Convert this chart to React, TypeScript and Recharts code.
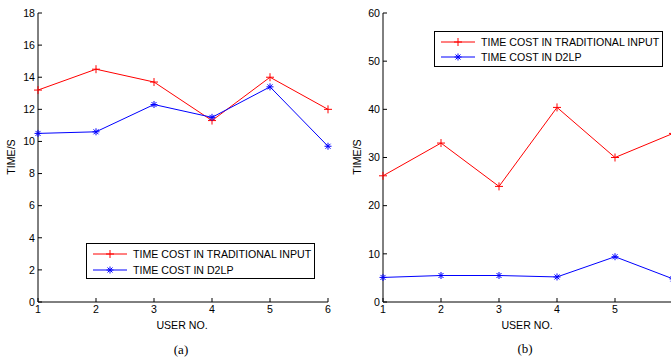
import { LineChart, Line, XAxis, YAxis, Legend } from 'recharts';

const users = [1, 2, 3, 4, 5, 6];
const traditionalA = [13.2, 14.5, 13.7, 11.3, 14.0, 12.0];
const d2lpA = [10.5, 10.6, 12.3, 11.5, 13.4, 9.7];
const traditionalB = [26.2, 33.0, 24.0, 40.4, 30.0, 35.0];
const d2lpB = [5.1, 5.5, 5.5, 5.2, 9.4, 4.8];
const yTicksA = [0, 2, 4, 6, 8, 10, 12, 14, 16, 18];
const yTicksB = [0, 10, 20, 30, 40, 50, 60];
const seriesOrder = ['trad', 'd2lp'];

const SANS = '"Liberation Sans", Arial, sans-serif';
const SERIF = '"Liberation Serif", "Times New Roman", serif';
const FS = 10.6;

function PlusDot(props: any) {
  const { cx, cy, stroke } = props;
  if (cx == null || cy == null) return <g key={props.key} />;
  return (
    <g key={props.key}>
      <line x1={cx - 4} y1={cy} x2={cx + 4} y2={cy} stroke={stroke} strokeWidth={1} />
      <line x1={cx} y1={cy - 4} x2={cx} y2={cy + 4} stroke={stroke} strokeWidth={1} />
    </g>
  );
}

function StarDot(props: any) {
  const { cx, cy, stroke } = props;
  if (cx == null || cy == null) return <g key={props.key} />;
  return (
    <g key={props.key}>
      <line x1={cx - 3.5} y1={cy} x2={cx + 3.5} y2={cy} stroke={stroke} strokeWidth={1} />
      <line x1={cx} y1={cy - 3.5} x2={cx} y2={cy + 3.5} stroke={stroke} strokeWidth={1} />
      <line x1={cx - 2.5} y1={cy - 2.5} x2={cx + 2.5} y2={cy + 2.5} stroke={stroke} strokeWidth={1} />
      <line x1={cx - 2.5} y1={cy + 2.5} x2={cx + 2.5} y2={cy - 2.5} stroke={stroke} strokeWidth={1} />
    </g>
  );
}

function MatlabLegend({ payload, rowHeight }: any) {
  const items = [...(payload || [])].sort(
    (a: any, b: any) => seriesOrder.indexOf(a.dataKey) - seriesOrder.indexOf(b.dataKey)
  );
  return (
    <div
      style={{
        border: '1.3px solid #000',
        background: '#fff',
        boxSizing: 'border-box',
        width: '100%',
        height: '100%',
        paddingTop: 2,
        fontFamily: SANS,
        fontSize: FS,
        color: '#000',
      }}
    >
      {items.map((item: any) => {
        const Marker = item.dataKey === 'd2lp' ? StarDot : PlusDot;
        return (
          <div key={item.value} style={{ display: 'flex', alignItems: 'center', height: rowHeight }}>
            <svg width={40} height={10} style={{ marginLeft: 6, flex: 'none' }}>
              <line x1={0} y1={5} x2={34} y2={5} stroke={item.color} strokeWidth={1} />
              <Marker cx={17} cy={5} stroke={item.color} />
            </svg>
            <span style={{ whiteSpace: 'nowrap' }}>{item.value}</span>
          </div>
        );
      })}
    </div>
  );
}

function Panel({ trad, d2lp, yTicks, yMax, width, yAxisWidth, legendBox, rowHeight, hiddenXLabels = [] }: any) {
  const data = users.map((u, i) => ({ user: u, trad: trad[i], d2lp: d2lp[i] }));
  const tickStyle = { fill: '#000', fontSize: FS, fontFamily: SANS };
  return (
    <LineChart width={width} height={358} data={data} margin={{ top: 13, right: 12, bottom: 26, left: 0 }}>
      <XAxis
        dataKey="user"
        type="number"
        domain={[1, 6]}
        ticks={users}
        height={30}
        tickSize={-4}
        tickMargin={7}
        tick={tickStyle}
        tickFormatter={(v: number) => (hiddenXLabels.includes(v) ? '' : String(v))}
        axisLine={{ stroke: '#000' }}
        tickLine={{ stroke: '#000' }}
        interval={0}
      />
      <XAxis
        xAxisId="top"
        orientation="top"
        dataKey="user"
        type="number"
        domain={[1, 6]}
        ticks={users}
        height={0}
        tickSize={-4}
        tick={false}
        axisLine={{ stroke: '#000' }}
        tickLine={{ stroke: '#000' }}
      />
      <YAxis
        type="number"
        domain={[0, yMax]}
        ticks={yTicks}
        width={yAxisWidth}
        tickSize={-4}
        tickMargin={7}
        tick={tickStyle}
        axisLine={{ stroke: '#000' }}
        tickLine={{ stroke: '#000' }}
        interval={0}
      />
      <YAxis
        yAxisId="r"
        orientation="right"
        type="number"
        domain={[0, yMax]}
        ticks={yTicks}
        width={0}
        tickSize={-4}
        tick={false}
        axisLine={{ stroke: '#000' }}
        tickLine={{ stroke: '#000' }}
      />
      <Legend
        layout="vertical"
        align="center"
        verticalAlign="middle"
        wrapperStyle={{ left: legendBox.left, top: legendBox.top, width: legendBox.w, height: legendBox.h }}
        content={(p: any) => <MatlabLegend payload={p.payload} rowHeight={rowHeight} />}
      />
      <Line
        dataKey="trad"
        name="TIME COST IN TRADITIONAL INPUT"
        stroke="#ff0000"
        strokeWidth={1}
        dot={(p: any) => <PlusDot {...p} stroke="#ff0000" />}
        activeDot={false}
        isAnimationActive={false}
      />
      <Line
        dataKey="d2lp"
        name="TIME COST IN D2LP"
        stroke="#0000ff"
        strokeWidth={1}
        dot={(p: any) => <StarDot {...p} stroke="#0000ff" />}
        activeDot={false}
        isAnimationActive={false}
      />
    </LineChart>
  );
}

const txt = (extra: any) => ({
  position: 'absolute' as const,
  fontFamily: SANS,
  fontSize: FS,
  color: '#000',
  whiteSpace: 'nowrap' as const,
  ...extra,
});

export default function App() {
  return (
    <div style={{ position: 'absolute', left: 0, top: 0, width: 671, height: 358, background: '#fff', overflow: 'hidden' }}>
      <div style={{ position: 'absolute', left: 0, top: 0, width: 340, height: 358 }}>
        <Panel
          trad={traditionalA}
          d2lp={d2lpA}
          yTicks={yTicksA}
          yMax={18}
          width={340}
          yAxisWidth={38}
          legendBox={{ left: 86, top: 243, w: 229, h: 36 }}
          rowHeight={16}
        />
      </div>
      <div style={{ position: 'absolute', left: 340, top: 0, width: 331, height: 358, overflow: 'hidden' }}>
        <Panel
          trad={traditionalB}
          d2lp={d2lpB}
          yTicks={yTicksB}
          yMax={60}
          width={345}
          yAxisWidth={43}
          legendBox={{ left: 94, top: 31, w: 229, h: 36 }}
          rowHeight={15}
          hiddenXLabels={[6]}
        />
      </div>
      <div style={txt({ left: 182, top: 325, transform: 'translate(-50%, -50%)' })}>USER NO.</div>
      <div style={txt({ left: 527, top: 325, transform: 'translate(-50%, -50%)' })}>USER NO.</div>
      <div style={txt({ left: 11, top: 157, transform: 'translate(-50%, -50%) rotate(-90deg)' })}>TIME/S</div>
      <div style={txt({ left: 357, top: 157, transform: 'translate(-50%, -50%) rotate(-90deg)' })}>TIME/S</div>
      <div style={txt({ left: 181, top: 350, fontFamily: SERIF, fontSize: 13, transform: 'translate(-50%, -50%)' })}>(a)</div>
      <div style={txt({ left: 525, top: 349, fontFamily: SERIF, fontSize: 13, transform: 'translate(-50%, -50%)' })}>(b)</div>
    </div>
  );
}
